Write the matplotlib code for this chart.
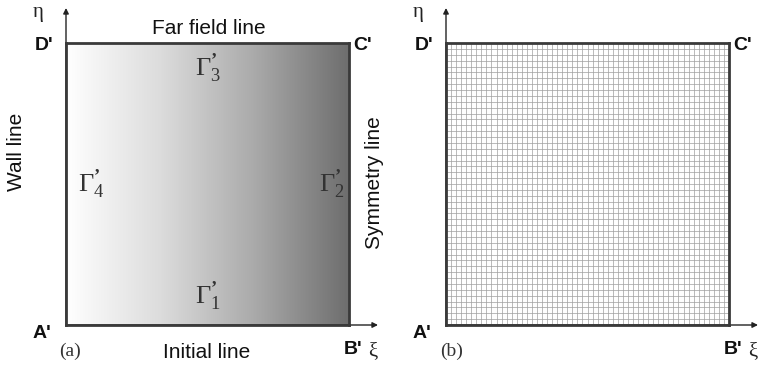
import numpy as np
import matplotlib
matplotlib.use("Agg")
import matplotlib.pyplot as plt
from matplotlib.colors import LinearSegmentedColormap

plt.rcParams["font.family"] = ["Liberation Sans", "DejaVu Sans"]
plt.rcParams["mathtext.fontset"] = "custom"
plt.rcParams["mathtext.rm"] = "Liberation Serif"
plt.rcParams["mathtext.it"] = "Liberation Serif"
plt.rcParams["mathtext.bf"] = "Liberation Serif:bold"

W, H = 759, 368

# computational domain (xi, eta) in [0, 1] x [0, 1]
XI_RANGE = [0.0, 1.0]
ETA_RANGE = [0.0, 1.0]
N_XI = 56          # grid cells along xi
N_ETA = 48         # grid cells along eta
SHADE = ["#ffffff", "#dcdcdc", "#aaaaaa", "#6e6e6e"]   # left -> right

corner_labels = ["A'", "B'", "C'", "D'"]
line_labels = ["Initial line", "Symmetry line", "Far field line", "Wall line"]
gamma_subs = ["1", "2", "3", "4"]
panel_tags = ["(a)", "(b)"]

BOX_COLOR = "#3a3a3a"
SERIF = ["Liberation Serif", "DejaVu Serif"]


def px(x, y):
    """pixel (top-left origin) -> figure fraction"""
    return x / W, 1 - y / H


def box_axes(fig, left_px):
    l, b = px(left_px, 325)
    ax = fig.add_axes([l, b, 283 / W, 282 / H])
    ax.set_xlim(*XI_RANGE)
    ax.set_ylim(*ETA_RANGE)
    ax.set_xticks([])
    ax.set_yticks([])
    for s in ax.spines.values():
        s.set_color(BOX_COLOR)
        s.set_linewidth(2.0)
        s.set_zorder(5)
    # xi / eta coordinate arrows
    ax.annotate("", xy=(1.0 + 29 / 283, 0), xytext=(0, 0),
                xycoords="axes fraction", annotation_clip=False,
                arrowprops=dict(arrowstyle="-|>", lw=1.0, color="#222222",
                                mutation_scale=8, shrinkA=0, shrinkB=0))
    ax.annotate("", xy=(0, 1.0 + 35 / 282), xytext=(0, 0),
                xycoords="axes fraction", annotation_clip=False,
                arrowprops=dict(arrowstyle="-|>", lw=1.0, color="#222222",
                                mutation_scale=8, shrinkA=0, shrinkB=0))
    return ax


def corner_text(fig, off):
    kw = dict(fontsize=14, fontweight="bold", color="#111111", va="center", ha="center")
    fig.text(*px(42 + off, 334), corner_labels[0], **kw)
    fig.text(*px(353 + off, 350), corner_labels[1], **kw)
    fig.text(*px(363 + off, 45), corner_labels[2], **kw)
    fig.text(*px(44 + off, 45), corner_labels[3], **kw)
    fig.text(*px(373 + off, 352), "ξ", fontsize=15, family=SERIF,
             va="center", ha="center", color="#222222")
    fig.text(*px(38 + off, 13), "η", fontsize=15, family=SERIF,
             va="center", ha="center", color="#222222")


def gamma(ax, x, y, sub):
    ax.text(x, y, r"$\Gamma_{%s}^{\mathbf{\u2019}}$".replace(r"\u2019", "\u2019") % sub,
            transform=ax.transAxes, fontsize=19, va="center", ha="center",
            color="#333333")


fig = plt.figure(figsize=(W / 100, H / 100), dpi=100)

# (a) physical boundaries with shading
ax1 = box_axes(fig, 66)
cmap = LinearSegmentedColormap.from_list("shade", SHADE)
ramp = np.linspace(0, 1, 256)[None, :]
ax1.imshow(ramp, cmap=cmap, extent=[*XI_RANGE, *ETA_RANGE], aspect="auto",
           origin="lower", zorder=0)
gamma(ax1, 0.5, 0.10, gamma_subs[0])
gamma(ax1, 0.94, 0.50, gamma_subs[1])
gamma(ax1, 0.5, 0.91, gamma_subs[2])
gamma(ax1, 0.09, 0.50, gamma_subs[3])

lk = dict(fontsize=15, va="center", ha="center", color="#111111")
fig.text(*px(209, 29), line_labels[2], **lk)
fig.text(*px(207, 352), line_labels[0], **lk)
fig.text(*px(374, 183), line_labels[1], rotation=90, **lk)
fig.text(*px(17, 152), line_labels[3], rotation=90, **lk)
fig.text(*px(70, 351), panel_tags[0], fontsize=14, family=SERIF,
         va="center", ha="center", color="#333333")
corner_text(fig, 0)

# (b) uniform computational grid
ax2 = box_axes(fig, 446)
xi_lines = np.linspace(*XI_RANGE, N_XI + 1)
eta_lines = np.linspace(*ETA_RANGE, N_ETA + 1)
ax2.vlines(xi_lines, *ETA_RANGE, color="#a0a0a0", lw=0.5, zorder=1)
ax2.hlines(eta_lines, *XI_RANGE, color="#a0a0a0", lw=0.5, zorder=1)
fig.text(*px(452, 351), panel_tags[1], fontsize=14, family=SERIF,
         va="center", ha="center", color="#333333")
corner_text(fig, 380)

fig.savefig("out.png", dpi=100)
